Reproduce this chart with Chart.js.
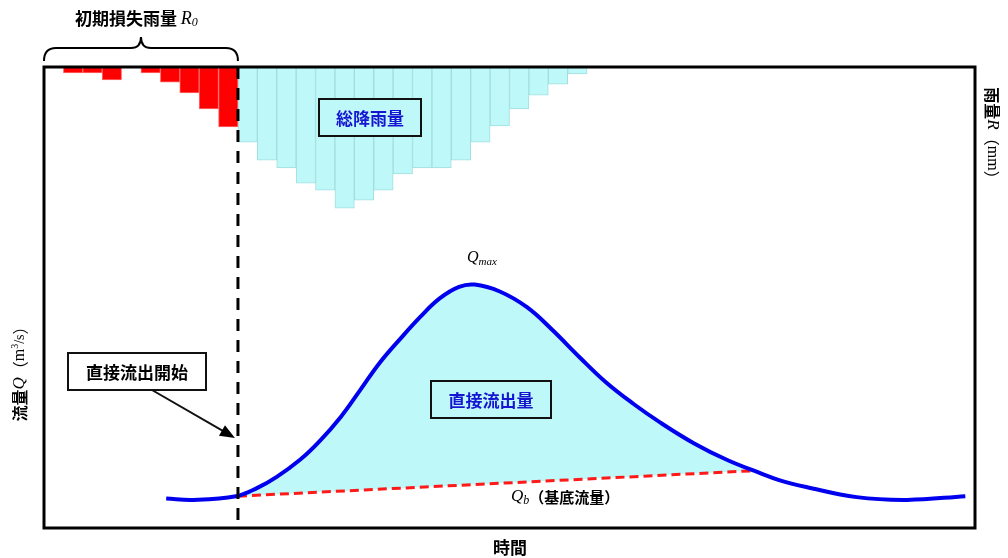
<!DOCTYPE html>
<html>
<head>
<meta charset="utf-8">
<script src="https://cdn.jsdelivr.net/npm/chart.js@4.4.1/dist/chart.umd.min.js"></script>
<style>
  html, body { margin: 0; padding: 0; background: #fff; }
</style>
</head>
<body>
<canvas id="hydrograph" width="1008" height="558"></canvas>
<script>
// time is counted in rainfall steps, 48 steps across the frame
const timeSteps = 48;
const runoffStart = 10;

// rainfall (mm), hanging from the top axis
const lossRain = [0, 1.3, 1.3, 2.8, 0, 1.3, 3.3, 5.6, 9.1, 13.0];
const totalRain = [16.3, 20.2, 21.9, 25.2, 26.7, 30.6, 28.9, 26.7, 23.2, 21.9, 21.9, 20.2, 16.3, 12.8, 9.1, 6.1, 3.7, 1.5];

// hydrograph
const flowTime = [6.3, 7.7, 9.9, 11.0, 12.0, 13.2, 14.2, 15.3, 16.3, 17.3, 18.4, 19.4, 20.4, 21.4, 22.2, 23.5, 24.9, 26.2, 27.6, 29.0, 30.4, 31.8, 33.5, 35.2, 36.8, 37.9, 39.3, 41.9, 44.5, 47.5];
const flowValue = [6.4, 6.1, 6.9, 8.7, 11.1, 14.8, 18.8, 24.1, 29.9, 35.8, 41.2, 45.8, 49.8, 52.3, 52.8, 51.3, 47.9, 43.0, 37.1, 31.5, 26.9, 22.8, 18.4, 14.8, 12.1, 10.4, 8.9, 6.7, 6.1, 6.9];

// base flow line
const baseTime = [10, 36.5];
const baseValue = [6.9, 12.4];

const CYAN = '#bff8f8';
const BLUE_TEXT = '#1616d2';
const CJK = '"Noto Sans CJK JP", sans-serif';
const SERIF = '"Liberation Serif", "DejaVu Serif", serif';

function drawRuns(ctx, runs, x, y, align) {
    let total = 0;
    runs.forEach(r => {
        ctx.font = r.font;
        r.w = ctx.measureText(r.text).width;
        total += r.w;
    });
    let cx = align === 'center' ? x - total / 2 : x;
    ctx.textAlign = 'left';
    ctx.textBaseline = 'middle';
    runs.forEach(r => {
        ctx.font = r.font;
        ctx.fillStyle = r.color || '#000';
        ctx.fillText(r.text, cx, y + (r.dy || 0));
        cx += r.w;
    });
}

function labelBox(ctx, x, y, w, h, fill, text, color) {
    ctx.fillStyle = fill;
    ctx.fillRect(x, y, w, h);
    ctx.lineWidth = 2;
    ctx.strokeStyle = '#111';
    ctx.strokeRect(x, y, w, h);
    drawRuns(ctx, [{ text: text, font: 'bold 17px ' + CJK, color: color }], x + w / 2, y + h / 2 + 1, 'center');
}

const annotations = {
    id: 'annotations',
    afterDraw(chart) {
        const ctx = chart.ctx;
        const area = chart.chartArea;
        const xs = chart.scales.x;
        const xStart = xs.getPixelForValue(runoffStart);
        ctx.save();

        // start of direct runoff
        ctx.setLineDash([12, 9]);
        ctx.lineWidth = 3;
        ctx.strokeStyle = '#000';
        ctx.beginPath();
        ctx.moveTo(xStart, area.top);
        ctx.lineTo(xStart, area.bottom);
        ctx.stroke();
        ctx.setLineDash([]);

        // frame
        ctx.lineWidth = 3;
        ctx.strokeStyle = '#000';
        ctx.strokeRect(area.left, area.top, area.right - area.left, area.bottom - area.top);

        // brace over the initial loss
        const x0 = xs.getPixelForValue(0), mid = (x0 + xStart) / 2;
        ctx.lineWidth = 2;
        ctx.beginPath();
        ctx.moveTo(x0, 61);
        ctx.quadraticCurveTo(x0, 48, x0 + 12, 48);
        ctx.lineTo(mid - 10, 48);
        ctx.quadraticCurveTo(mid, 48, mid, 37);
        ctx.quadraticCurveTo(mid, 48, mid + 10, 48);
        ctx.lineTo(xStart - 12, 48);
        ctx.quadraticCurveTo(xStart, 48, xStart, 61);
        ctx.stroke();

        drawRuns(ctx, [
            { text: '初期損失雨量 ', font: 'bold 17px ' + CJK },
            { text: 'R', font: 'italic 18px ' + SERIF },
            { text: '0', font: 'italic 12px ' + SERIF, dy: 4 }
        ], 75, 19, 'left');

        labelBox(ctx, 319, 99, 102, 37, CYAN, '総降雨量', BLUE_TEXT);
        labelBox(ctx, 431, 381, 120, 37, CYAN, '直接流出量', BLUE_TEXT);
        labelBox(ctx, 68, 353, 138, 37, '#fff', '直接流出開始', '#000');

        // arrow to the runoff start
        const ax0 = 152, ay0 = 390, ax1 = xStart - 3, ay1 = 438;
        const ang = Math.atan2(ay1 - ay0, ax1 - ax0);
        ctx.lineWidth = 2;
        ctx.beginPath();
        ctx.moveTo(ax0, ay0);
        ctx.lineTo(ax1 - 12 * Math.cos(ang), ay1 - 12 * Math.sin(ang));
        ctx.stroke();
        ctx.fillStyle = '#000';
        ctx.beginPath();
        ctx.moveTo(ax1, ay1);
        ctx.lineTo(ax1 - 15 * Math.cos(ang) + 6 * Math.sin(ang), ay1 - 15 * Math.sin(ang) - 6 * Math.cos(ang));
        ctx.lineTo(ax1 - 15 * Math.cos(ang) - 6 * Math.sin(ang), ay1 - 15 * Math.sin(ang) + 6 * Math.cos(ang));
        ctx.closePath();
        ctx.fill();

        drawRuns(ctx, [
            { text: 'Q', font: 'italic 16px ' + SERIF },
            { text: 'max', font: 'italic 11px ' + SERIF, dy: 4 }
        ], 482, 258, 'center');

        drawRuns(ctx, [
            { text: 'Q', font: 'italic 17px ' + SERIF },
            { text: 'b', font: 'italic 12px ' + SERIF, dy: 4 },
            { text: '（基底流量）', font: 'bold 15px ' + CJK }
        ], 511, 497, 'left');

        drawRuns(ctx, [{ text: '時間', font: 'bold 17px ' + CJK }], 510, 548, 'center');

        // left axis title
        ctx.save();
        ctx.translate(20, 370);
        ctx.rotate(-Math.PI / 2);
        drawRuns(ctx, [
            { text: '流量', font: 'bold 16px ' + CJK },
            { text: 'Q', font: 'italic 17px ' + SERIF },
            { text: '（', font: '16px ' + CJK },
            { text: 'm', font: '16px ' + SERIF },
            { text: '3', font: '10px ' + SERIF, dy: -5 },
            { text: '/s', font: '14px ' + SERIF },
            { text: '）', font: '16px ' + CJK }
        ], 0, 0, 'center');
        ctx.restore();

        // right axis title
        ctx.save();
        ctx.translate(992, 137);
        ctx.rotate(Math.PI / 2);
        drawRuns(ctx, [
            { text: '雨量', font: 'bold 16px ' + CJK },
            { text: 'R', font: 'italic 17px ' + SERIF },
            { text: '（', font: '16px ' + CJK },
            { text: 'mm', font: '16px ' + SERIF },
            { text: '）', font: '16px ' + CJK }
        ], 0, 0, 'center');
        ctx.restore();

        ctx.restore();
    }
};

const ctx = document.getElementById('hydrograph').getContext('2d');
new Chart(ctx, {
    type: 'line',
    data: {
        datasets: [{
            type: 'line',
            label: '流量',
            data: flowTime.map((t, i) => ({ x: t, y: flowValue[i] })),
            borderColor: '#0000ee',
            borderWidth: 4,
            pointRadius: 0,
            tension: 0.4,
            backgroundColor: CYAN,
            fill: { target: 1, above: CYAN, below: CYAN },
            yAxisID: 'y',
            order: 0
        }, {
            type: 'line',
            label: '基底流量',
            data: baseTime.map((t, i) => ({ x: t, y: baseValue[i] })),
            borderColor: '#ff1a1a',
            borderWidth: 3,
            borderDash: [9, 5],
            pointRadius: 0,
            fill: false,
            yAxisID: 'y',
            order: 1
        }, {
            type: 'bar',
            label: '初期損失雨量',
            data: lossRain.map((v, i) => ({ x: i + 0.5, y: v })),
            backgroundColor: '#ff0000',
            borderColor: '#ff6a6a',
            borderWidth: 1,
            grouped: false,
            barPercentage: 1,
            categoryPercentage: 1,
            yAxisID: 'yRain',
            order: 2
        }, {
            type: 'bar',
            label: '総降雨量',
            data: totalRain.map((v, i) => ({ x: runoffStart + i + 0.5, y: v })),
            backgroundColor: CYAN,
            borderColor: '#a2dede',
            borderWidth: 1,
            grouped: false,
            barPercentage: 1,
            categoryPercentage: 1,
            yAxisID: 'yRain',
            order: 3
        }]
    },
    options: {
        responsive: false,
        animation: false,
        layout: {
            padding: { left: 44, right: 33, top: 67, bottom: 30 }
        },
        scales: {
            x: { type: 'linear', min: 0, max: timeSteps, offset: false, display: false },
            y: { type: 'linear', min: 0, max: 100, display: false },
            yRain: { type: 'linear', min: 0, max: 100, reverse: true, display: false }
        },
        plugins: {
            legend: { display: false },
            tooltip: { enabled: false },
            filler: { drawTime: 'beforeDatasetsDraw' }
        }
    },
    plugins: [annotations]
});
</script>
</body>
</html>
